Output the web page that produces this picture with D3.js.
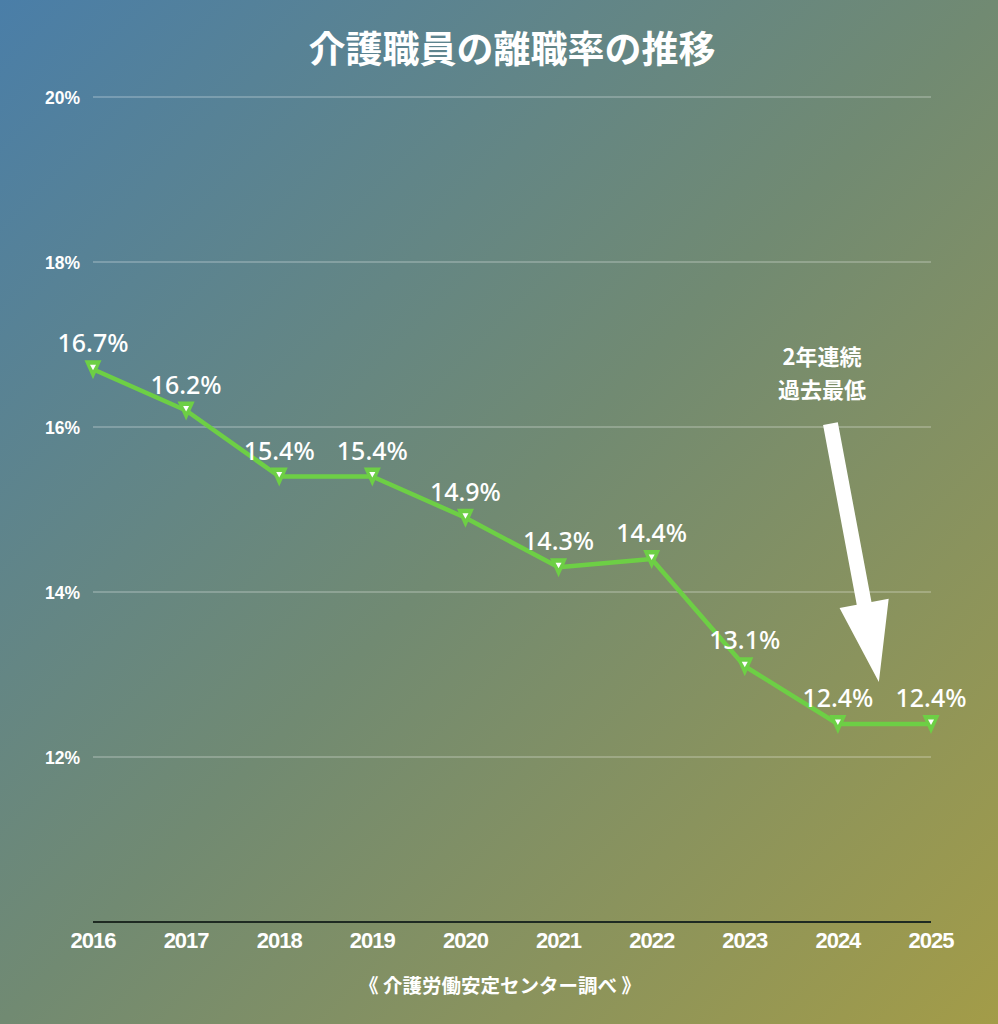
<!DOCTYPE html>
<html><head><meta charset="utf-8">
<script src="https://cdn.jsdelivr.net/npm/d3@7"></script>
<style>html,body{margin:0;padding:0;overflow:hidden;background:#6f8a72}</style>
</head><body>
<script>
const years = ["2016","2017","2018","2019","2020","2021","2022","2023","2024","2025"];
const rates = [16.7,16.2,15.4,15.4,14.9,14.3,14.4,13.1,12.4,12.4];
const yTicks = [12,14,16,18,20];
const titleText = "介護職員の離職率の推移";
const sourceText = "《 介護労働安定センター調べ 》";
const noteLines = ["2年連続","過去最低"];
const arrowFrom = [7.92, 16.04];  // index-space x, value y
const arrowTo = [8.44, 12.91];

const W = 998, H = 1024;
const svg = d3.select("body").append("svg").attr("width", W).attr("height", H);
const defs = svg.append("defs");
const grad = defs.append("linearGradient").attr("id","bg").attr("x1","0").attr("y1","0").attr("x2","1").attr("y2","1");
grad.append("stop").attr("offset","0").attr("stop-color","#4a7ea8");
grad.append("stop").attr("offset","0.5").attr("stop-color","#718a72");
grad.append("stop").attr("offset","1").attr("stop-color","#a39c48");
svg.append("rect").attr("width",W).attr("height",H).attr("fill","url(#bg)");

const x = d3.scaleLinear().domain([0, years.length-1]).range([93, 931]);
const y = d3.scaleLinear().domain([10, 20]).range([922, 97]);

const jp = "'Noto Sans CJK JP','Noto Sans',sans-serif";
const sans = "'Liberation Sans',Arial,Helvetica,sans-serif";

// title
svg.append("text").attr("x", 512).attr("y", 63).attr("text-anchor","middle")
  .attr("fill","#fff").attr("font-family", jp).attr("font-weight",700).attr("font-size",37)
  .text(titleText);

// grid
const g = svg.append("g");
g.selectAll("line.grid").data(yTicks).join("line").attr("class","grid")
  .attr("x1", x(0)).attr("x2", x(years.length-1))
  .attr("y1", d=>y(d)).attr("y2", d=>y(d))
  .attr("stroke","rgba(255,255,255,0.45)").attr("stroke-width",1);
g.selectAll("text.ytick").data(yTicks).join("text").attr("class","ytick")
  .attr("x", 80).attr("y", d=>y(d)+6.5).attr("text-anchor","end")
  .attr("fill","#fff").attr("font-family",sans).attr("font-weight",700).attr("font-size",17.5)
  .text(d=>d+"%");

// baseline axis
g.append("line").attr("x1", x(0)).attr("x2", x(years.length-1)).attr("y1", y(10)).attr("y2", y(10))
  .attr("stroke","#1e2a22").attr("stroke-width",2);
g.selectAll("text.xtick").data(years).join("text").attr("class","xtick")
  .attr("x",(d,i)=>x(i)).attr("y", 948).attr("text-anchor","middle")
  .attr("fill","#fff").attr("font-family",sans).attr("font-weight",700).attr("font-size",22)
  .attr("letter-spacing",-1)
  .text(d=>d);

// line
const line = d3.line().x((d,i)=>x(i)).y(d=>y(d));
svg.append("path").datum(rates).attr("d", line).attr("fill","none")
  .attr("stroke","#6dcf45").attr("stroke-width",4.5).attr("stroke-linejoin","round");

// markers
const mk = svg.selectAll("g.mk").data(rates).join("g").attr("class","mk")
  .attr("transform",(d,i)=>`translate(${x(i)},${y(d)})`);
mk.append("path").attr("d","M-8.5,-9 L8.5,-9 L0,10 Z").attr("fill","#6dcf45");
mk.append("path").attr("d","M-3,-4.5 L3,-4.5 L0,1 Z").attr("fill","#fff");

// value labels
svg.selectAll("text.val").data(rates).join("text").attr("class","val")
  .attr("x",(d,i)=>x(i)).attr("y",d=>y(d)-17).attr("text-anchor","middle")
  .attr("fill","#fff").attr("font-family","'Noto Sans','Open Sans',sans-serif").attr("font-weight",500).attr("font-size",25)
  .text(d=>d.toFixed(1)+"%");

// annotation
svg.selectAll("text.note").data(noteLines).join("text").attr("class","note")
  .attr("x", 822).attr("y",(d,i)=>365+i*33).attr("text-anchor","middle")
  .attr("fill","#fff").attr("font-family", jp).attr("font-weight",700).attr("font-size",22)
  .text(d=>d);

// arrow
const ax0 = x(arrowFrom[0]), ay0 = y(arrowFrom[1]), ax1 = x(arrowTo[0]), ay1 = y(arrowTo[1]);
const len = Math.hypot(ax1-ax0, ay1-ay0);
const ang = Math.atan2(ay1-ay0, ax1-ax0)*180/Math.PI;
const sw = 7.5, hw = 25, hl = 80;
svg.append("path")
  .attr("d", `M0,${-sw} L${len-hl},${-sw} L${len-hl},${-hw} L${len},0 L${len-hl},${hw} L${len-hl},${sw} L0,${sw} Z`)
  .attr("fill","#fff")
  .attr("transform", `translate(${ax0},${ay0}) rotate(${ang})`);

// source
svg.append("text").attr("x", 500).attr("y", 993).attr("text-anchor","middle")
  .attr("fill","#fff").attr("font-family", jp).attr("font-weight",700).attr("font-size",19.5)
  .text(sourceText);
</script>
</body></html>
